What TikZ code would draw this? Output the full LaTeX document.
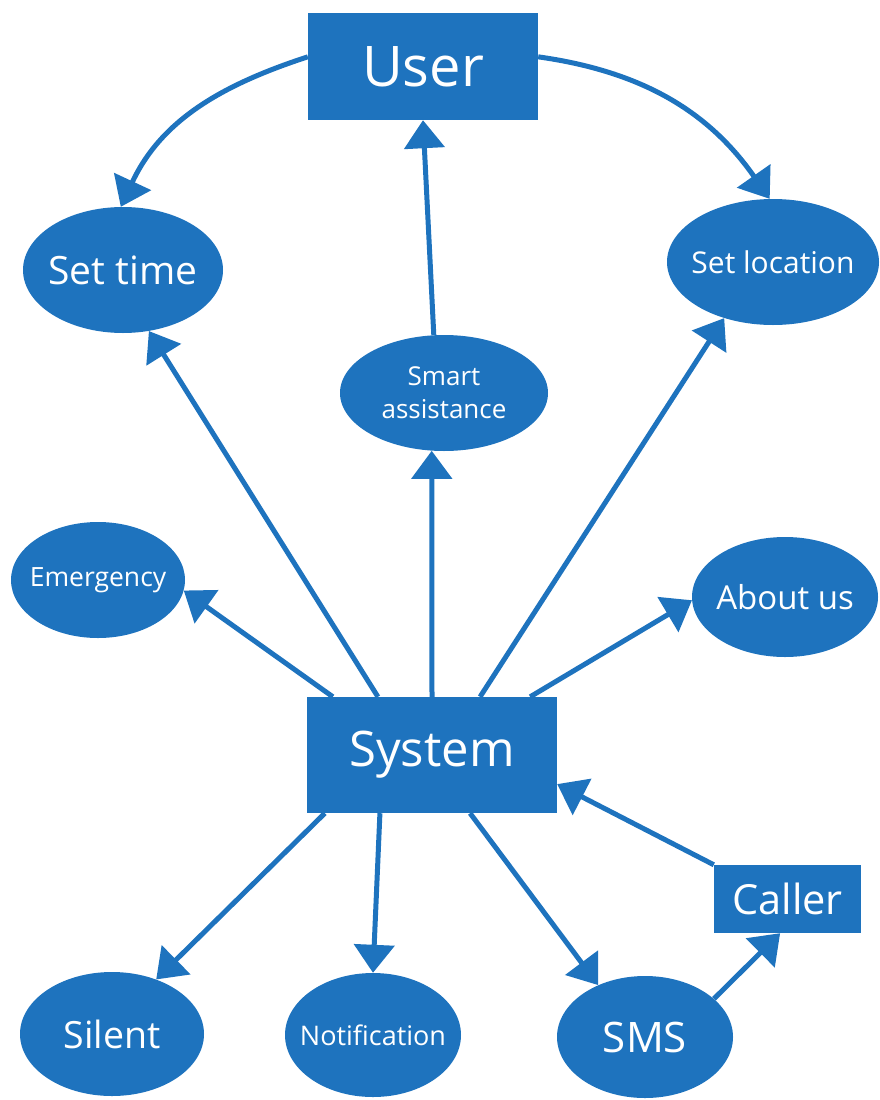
\documentclass[tikz,border=0pt]{standalone}
\usepackage{fontspec}
\setmainfont{Open Sans}
\usetikzlibrary{arrows.meta,shapes.geometric,calc,backgrounds}
\definecolor{dblue}{RGB}{30,115,190}
\begin{document}
\begin{tikzpicture}[x=1pt,y=1pt,
  box/.style={rectangle,fill=dblue,text=white,inner sep=0pt},
  oval/.style={ellipse,fill=dblue,text=white,inner xsep=-45pt,inner ysep=0pt},
  arr/.style={draw=dblue,line width=5pt,-{Triangle[width=40pt,length=28pt]}}]
\useasboundingbox (0,0) rectangle (879,-1100);

% rectangles
\node[box,minimum width=230pt,minimum height=107pt,font=\fontsize{56}{60}\selectfont] (user) at (423,-66.5) {User};
\node[box,minimum width=250pt,minimum height=116pt,font=\fontsize{49}{53}\selectfont] (system) at (432,-755) {System};
\node[box,minimum width=147pt,minimum height=68pt,font=\fontsize{41.5}{45}\selectfont] (caller) at (787.5,-899) {Caller};

% ellipses
\node[oval,minimum width=200pt,minimum height=126pt,font=\fontsize{39}{43}\selectfont] (settime) at (123,-270) {Set time};
\node[oval,minimum width=212pt,minimum height=126pt,font=\fontsize{30}{34}\selectfont] (setlocation) at (773,-262) {Set location};
\node[oval,minimum width=208pt,minimum height=116pt,align=center,font=\fontsize{26}{33}\selectfont] (smart) at (444,-393) {Smart\\assistance};
\node[oval,minimum width=174pt,minimum height=116pt,font=\fontsize{26.5}{30}\selectfont] (emergency) at (98,-580) {Emergency};
\node[oval,minimum width=186pt,minimum height=120pt,font=\fontsize{33}{37}\selectfont] (aboutus) at (785,-597) {About us};
\node[oval,minimum width=184pt,minimum height=124pt,font=\fontsize{37.5}{41}\selectfont] (silent) at (112,-1034) {Silent};
\node[oval,minimum width=176pt,minimum height=124pt,font=\fontsize{27}{31}\selectfont] (notification) at (373,-1035) {Notification};
\node[oval,minimum width=176pt,minimum height=122pt,font=\fontsize{42}{46}\selectfont] (sms) at (645,-1037) {SMS};

\begin{scope}[on background layer]
% from user
\draw[arr] ($(user.north west)!0.41!(user.south west)$) to[out=198,in=65] (settime.92);
\draw[arr] ($(user.north east)!0.41!(user.south east)$) to[out=-8,in=125] (setlocation.93);
\draw[arr] (smart.100) -- (user.south);
% from system upward
\draw[arr] ($(system.north west)!0.104!(system.north east)$) -- (emergency.-7);
\draw[arr] ($(system.north west)!0.284!(system.north east)$) -- (settime.-67);
\draw[arr] (system.north) -- (smart.-102);
\draw[arr] ($(system.north west)!0.692!(system.north east)$) -- (setlocation.-131);
\draw[arr] ($(system.north west)!0.892!(system.north east)$) -- (aboutus.182);
% from system downward
\draw[arr] ($(system.south west)!0.072!(system.south east)$) -- (silent.51);
\draw[arr] ($(system.south west)!0.292!(system.south east)$) -- (notification.90);
\draw[arr] ($(system.south west)!0.652!(system.south east)$) -- (sms.132);
% sms - caller - system
\draw[arr] (sms.29) -- ($(caller.south west)!0.45!(caller.south east)$);
\draw[arr] (caller.north west) -- ($(system.south east)!0.25!(system.north east)$);
\end{scope}
\end{tikzpicture}
\end{document}
